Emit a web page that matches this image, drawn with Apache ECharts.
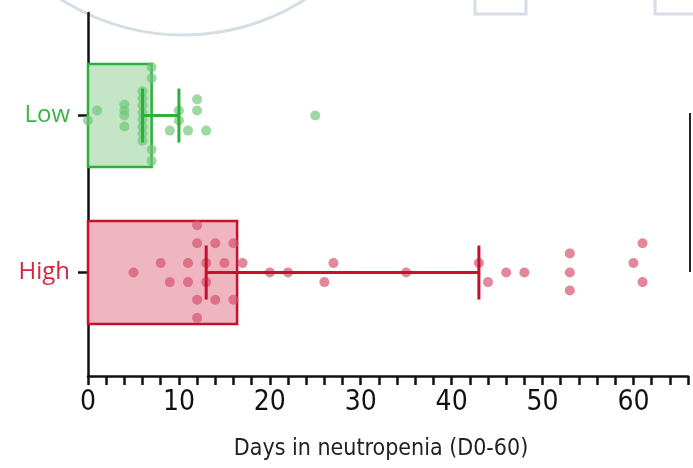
<!DOCTYPE html>
<html><head><meta charset="utf-8">
<script src="https://cdn.jsdelivr.net/npm/echarts@6/dist/echarts.min.js"></script>
<style>html,body{margin:0;padding:0;background:#fff}#c{width:693px;height:468px}</style>
</head><body><div id="c"></div>
<script>
// Data
const groups = ['High', 'Low'];            // y position 0 = High, 1 = Low
const barValues = [16.4, 7];               // bar length (days)
const errLow = [13, 6];                    // error bar lower end
const errHigh = [43, 10];                  // error bar upper end
// individual points: days and vertical jitter (fraction of group spacing)
const lowDays   = [0, 1, 4, 4, 4, 4, 6, 6, 6, 6, 6, 6, 6, 6, 7, 7, 7, 7, 9, 10, 10, 11, 12, 12, 13, 25];
const lowJitter = [-0.032, 0.032, 0.07, 0.032, 0, -0.07, 0.154, 0.109, 0.064, 0.019, -0.026, -0.071, -0.115, -0.16, 0.308, 0.237, -0.218, -0.289, -0.096, 0.032, -0.032, -0.096, 0.103, 0.032, -0.096, 0];
const highDays   = [5, 8, 9, 11, 11, 12, 12, 12, 12, 13, 13, 14, 14, 15, 16, 16, 17, 20, 22, 26, 27, 35, 43, 44, 46, 48, 53, 53, 53, 60, 61, 61];
const highJitter = [0, 0.061, -0.061, 0.061, -0.061, 0.301, 0.186, -0.173, -0.289, 0.061, -0.061, 0.186, -0.173, 0.061, 0.186, -0.173, 0.061, 0, 0, -0.061, 0.061, 0, 0.061, -0.061, 0, 0, 0.122, 0, -0.115, 0.061, 0.186, -0.061];
const xTickLabels = [0, 10, 20, 30, 40, 50, 60];

const lineColors = ['#c8102e', '#2bb13a'];
const labelColors = ['#d3263b', '#3db24a'];
const fillColors = ['#efb5c0', '#c4e6c6'];
const dotColors  = ['rgba(214,80,108,0.85)', 'rgba(110,200,120,0.85)'];
const condensed = '"DejaVu Sans Condensed", "Liberation Sans Narrow", sans-serif';

const chart = echarts.init(document.getElementById('c'), null, {renderer: 'canvas'});

const barData = groups.map((g, i) => [i, barValues[i], errLow[i], errHigh[i]]);

const option = {
  animation: false,
  grid: {left: 88, right: 5, top: 13, bottom: 92, containLabel: false},
  xAxis: {
    type: 'value', min: 0, max: 66, interval: 2,
    axisLine: {show: true, onZero: false, lineStyle: {color: '#111', width: 2.5}},
    axisTick: {show: true, length: 9, lineStyle: {color: '#111', width: 2.5}},
    splitLine: {show: false},
    axisLabel: {
      interval: 0, margin: 13, color: '#111', fontSize: 28, fontFamily: condensed,
      formatter: v => xTickLabels.includes(v) ? String(v) : ''
    },
    name: 'Days in neutropenia (D0-60)', nameLocation: 'middle', nameGap: 62,
    nameTextStyle: {color: '#222', fontSize: 23, fontFamily: condensed, padding: [0, 14, 0, 0]}
  },
  yAxis: {
    type: 'value', min: -0.659, max: 1.653,
    axisLine: {show: true, onZero: false, lineStyle: {color: '#111', width: 2.5}},
    axisTick: {show: true, customValues: [0, 1], length: 10, lineStyle: {color: '#111', width: 2.5}},
    splitLine: {show: false},
    axisLabel: {
      customValues: [0, 1], margin: 18,
      fontFamily: '"Open Sans", "DejaVu Sans", sans-serif',
      formatter: v => v === 0 ? '{h|' + groups[0] + '}' : '{l|' + groups[1] + '}',
      rich: {h: {color: labelColors[0], fontSize: 24, fontFamily: '"Open Sans", sans-serif'},
             l: {color: labelColors[1], fontSize: 24, fontFamily: '"Open Sans", sans-serif'}}
    }
  },
  series: [
    {
      type: 'custom', z: 1,
      data: barData,
      renderItem: (params, api) => {
        const i = api.value(0);
        const p0 = api.coord([0, i + 0.328]);
        const p1 = api.coord([api.value(1), i - 0.328]);
        return {type: 'rect', shape: {x: p0[0], y: p0[1], width: p1[0] - p0[0], height: p1[1] - p0[1]},
          style: {fill: fillColors[i], stroke: lineColors[i], lineWidth: 2.5}};
      }
    },
    {
      type: 'scatter', z: 3, symbolSize: 10,
      data: lowDays.map((d, k) => [d, 1 + lowJitter[k]]),
      itemStyle: {color: dotColors[1]}
    },
    {
      type: 'scatter', z: 3, symbolSize: 10,
      data: highDays.map((d, k) => [d, 0 + highJitter[k]]),
      itemStyle: {color: dotColors[0]}
    },
    {
      type: 'custom', z: 5,
      data: barData,
      renderItem: (params, api) => {
        const i = api.value(0);
        const a = api.coord([api.value(2), i]);
        const b = api.coord([api.value(3), i]);
        const h = api.size([0, 0.172])[1];
        const st = {stroke: lineColors[i], lineWidth: 3};
        return {type: 'group', children: [
          {type: 'line', shape: {x1: a[0], y1: a[1], x2: b[0], y2: b[1]}, style: st},
          {type: 'line', shape: {x1: a[0], y1: a[1] - h, x2: a[0], y2: a[1] + h}, style: st},
          {type: 'line', shape: {x1: b[0], y1: b[1] - h, x2: b[0], y2: b[1] + h}, style: st}
        ]};
      }
    }
  ],
  graphic: [
    {type: 'arc', shape: {cx: 183, cy: -192, r: 227, startAngle: Math.PI * 0.2, endAngle: Math.PI * 0.8},
      style: {stroke: '#d6dee5', lineWidth: 3, fill: null}, silent: true},
    {type: 'rect', shape: {x: 475, y: -5, width: 51, height: 19}, style: {stroke: '#d6dee5', lineWidth: 3, fill: null}, silent: true},
    {type: 'rect', shape: {x: 655, y: -5, width: 60, height: 19}, style: {stroke: '#d6dee5', lineWidth: 3, fill: null}, silent: true},
    {type: 'line', shape: {x1: 690, y1: 113, x2: 690, y2: 272}, style: {stroke: '#222', lineWidth: 2}, silent: true}
  ]
};
chart.setOption(option);
</script></body></html>
